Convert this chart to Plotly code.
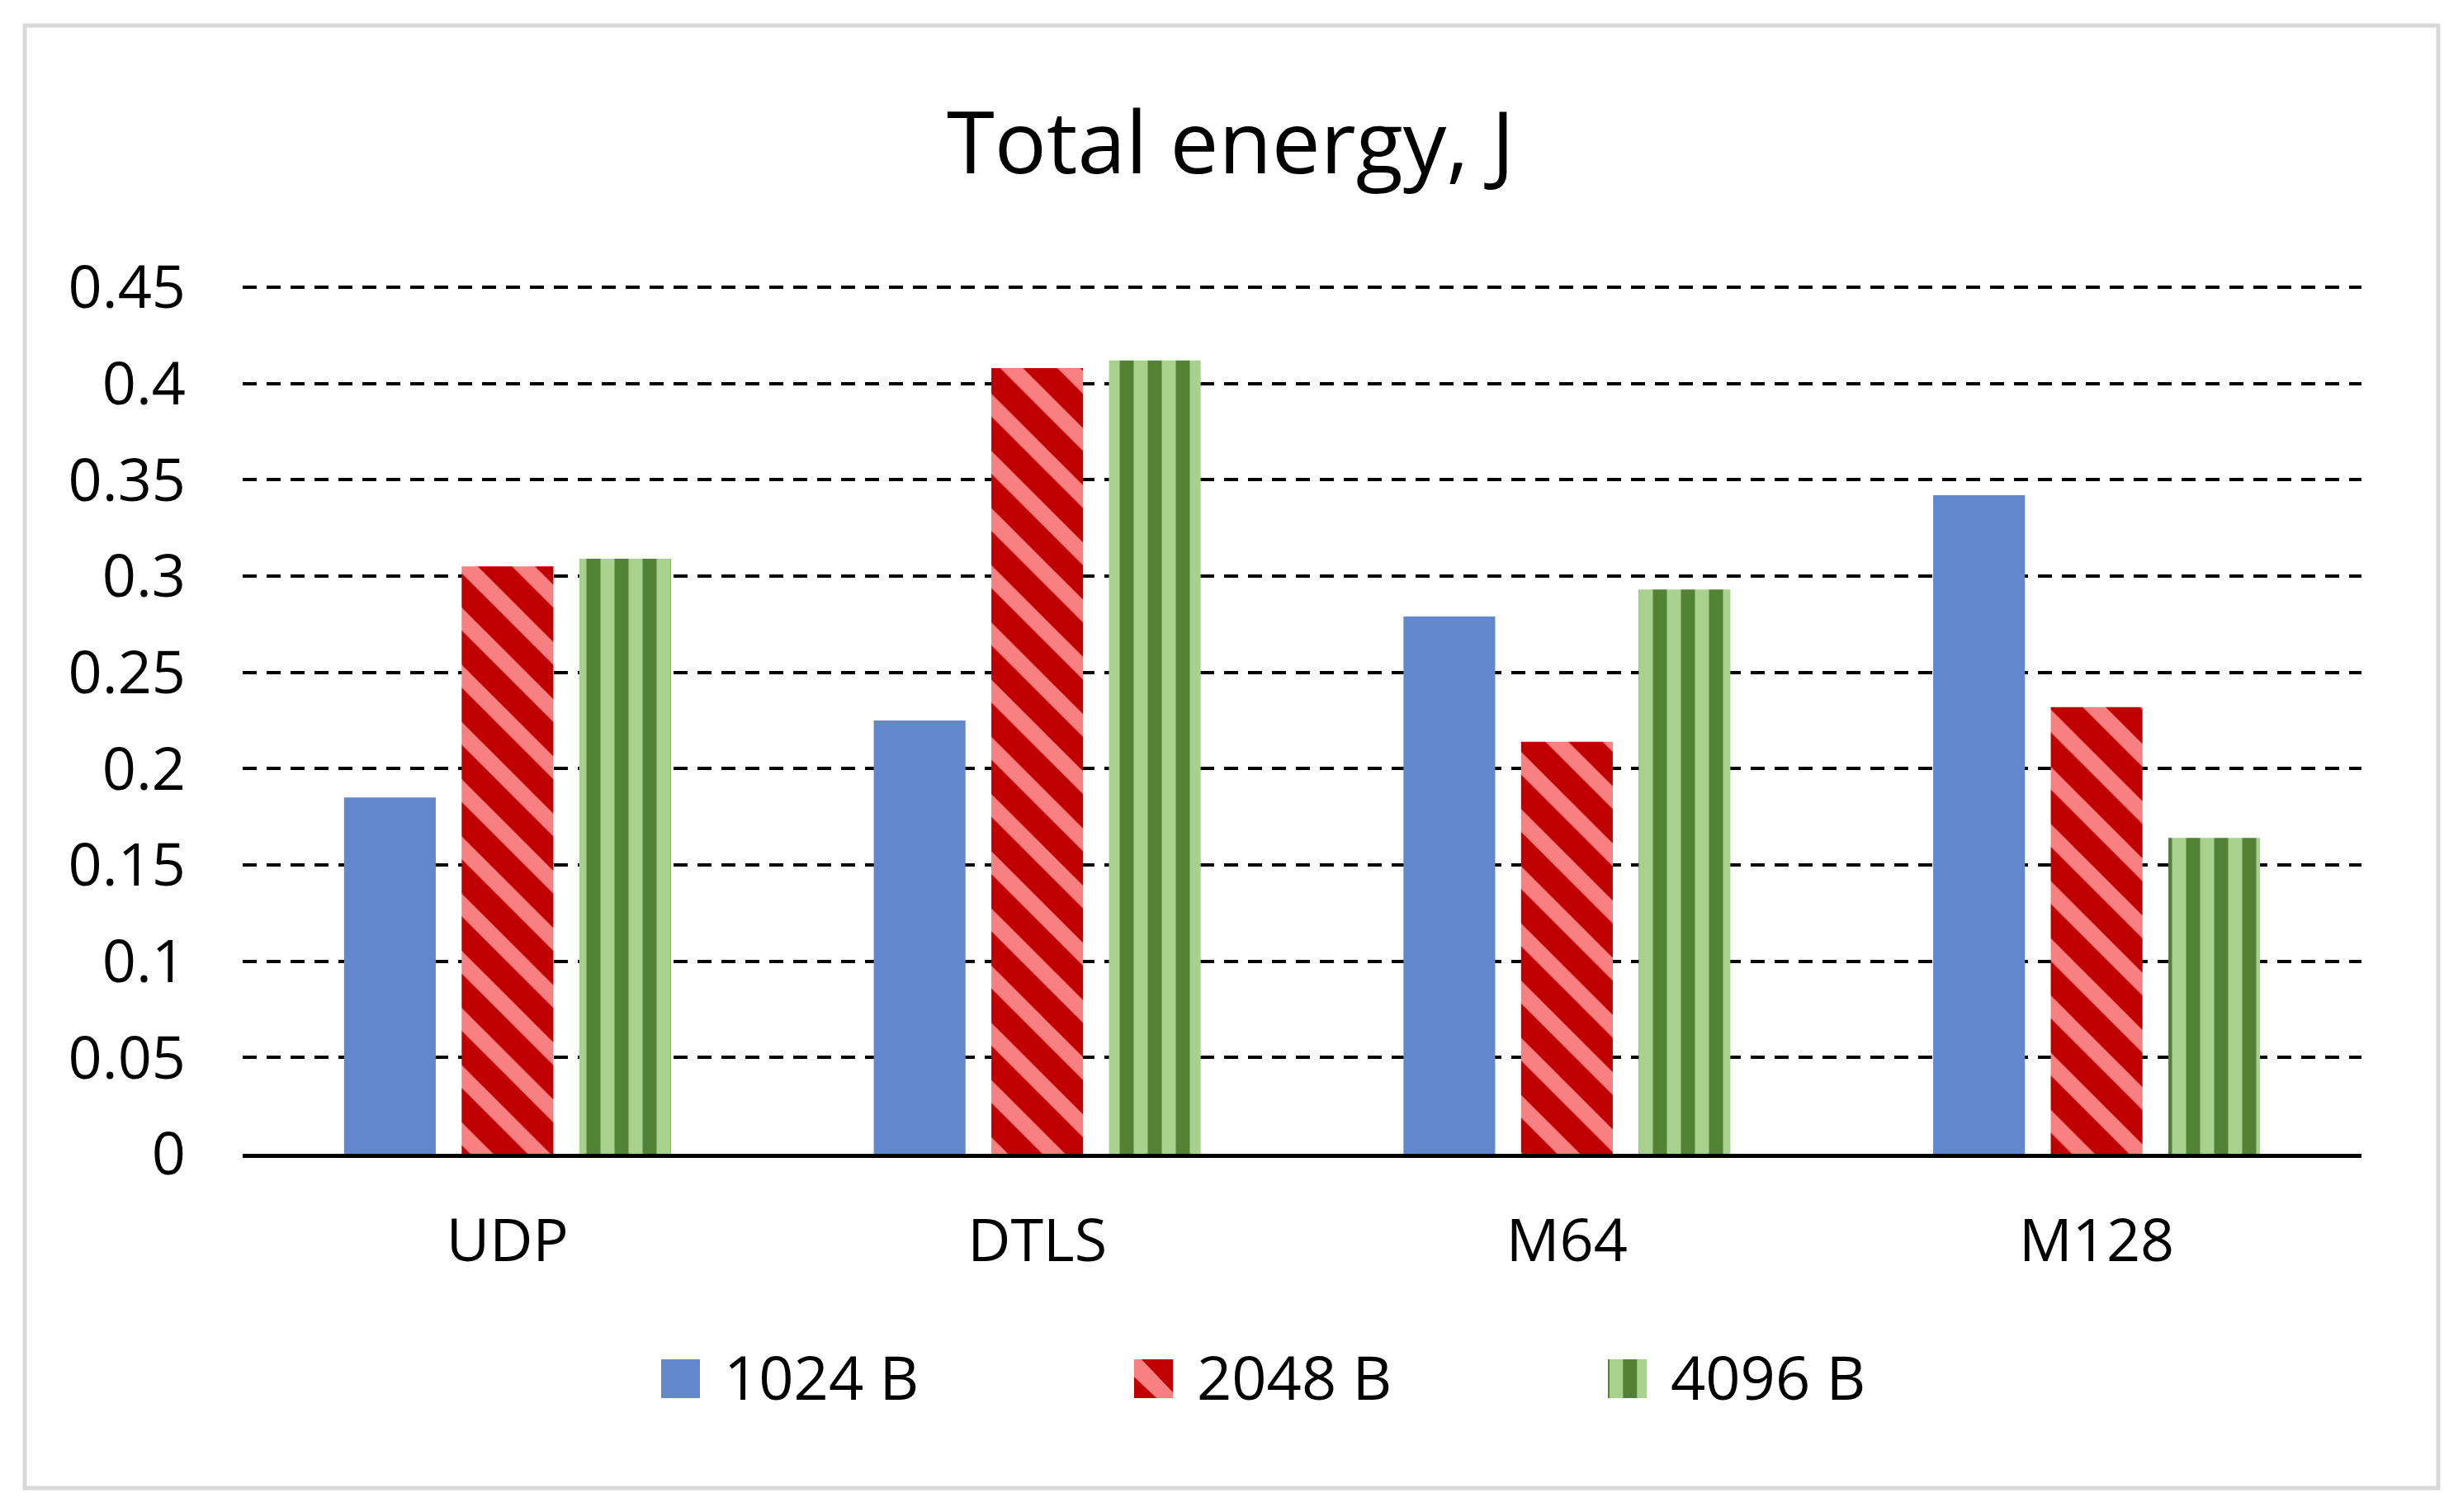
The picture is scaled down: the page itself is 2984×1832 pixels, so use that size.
import plotly.graph_objects as go

# values
categories = ["UDP", "DTLS", "M64", "M128"]
series_names = ["1024 B", "2048 B", "4096 B"]
energy_1024 = [0.185, 0.225, 0.279, 0.342]
energy_2048 = [0.305, 0.408, 0.214, 0.232]
energy_4096 = [0.309, 0.412, 0.293, 0.164]
y_ticks = [0, 0.05, 0.1, 0.15, 0.2, 0.25, 0.3, 0.35, 0.4, 0.45]

BLUE = "#6287CD"
RED_DARK = "#C00000"
RED_LIGHT = "#F88080"
GREEN_DARK = "#548235"
GREEN_LIGHT = "#A9D18E"
FONT = "Open Sans"

# the page body has an 8px margin, so page pixels are shifted by OFF
OFF = 8
W, H = 2984 - 2 * OFF, 1832 - 2 * OFF
L, R, T, B = 294 - OFF, 2861 - OFF, 346 - OFF, 1398 - OFF
# plotly drops grid lines within 1px of the plot edge, so leave 2px above 0.45
Y_TOP = 0.45 * (B - T) / (B - T - 2)


def px_x(p):
    return (p - OFF - L) / (R - L)


def px_y(p):
    return (B - (p - OFF)) / (B - T)


fig = go.Figure()
fig.add_trace(go.Bar(x=categories, y=energy_1024, name=series_names[0],
                     marker=dict(color=BLUE, line=dict(width=0))))
fig.add_trace(go.Bar(x=categories, y=energy_2048, name=series_names[1],
                     marker=dict(color=RED_DARK, line=dict(width=0),
                                 pattern=dict(shape="\\", bgcolor=RED_DARK, fgcolor=RED_LIGHT,
                                              fgopacity=1, size=49, solidity=0.4))))
fig.add_trace(go.Bar(x=categories, y=energy_4096, name=series_names[2],
                     marker=dict(color=GREEN_LIGHT, line=dict(width=0),
                                 pattern=dict(shape="|", bgcolor=GREEN_LIGHT, fgcolor=GREEN_DARK,
                                              fgopacity=1, size=34, solidity=0.5))))

shapes = []
# outer chart border
shapes.append(dict(type="rect", xref="paper", yref="paper",
                   x0=px_x(30), x1=px_x(2954), y0=px_y(1803), y1=px_y(31),
                   line=dict(color="#D9D9D9", width=5), layer="below"))

# legend swatches drawn by hand so they can be Excel-sized
sw_top, sw_bot = 1647, 1694
sw_left = [801, 1374, 1948]
sw = 47


def rect(x0, x1, color):
    return dict(type="rect", xref="paper", yref="paper",
                x0=px_x(x0), x1=px_x(x1), y0=px_y(sw_bot), y1=px_y(sw_top),
                fillcolor=color, line=dict(width=0), layer="above")


shapes.append(rect(sw_left[0], sw_left[0] + sw, BLUE))
shapes.append(rect(sw_left[1], sw_left[1] + sw, RED_DARK))
x0 = sw_left[1]
pts = [(0, 0), (0.19, 0), (1, 0.85), (1, 1), (0.58, 1), (0, 0.45)]
path = "M " + " L ".join(f"{px_x(x0 + a * sw):.5f},{px_y(sw_top + b * sw):.5f}" for a, b in pts) + " Z"
shapes.append(dict(type="path", xref="paper", yref="paper", path=path,
                   fillcolor=RED_LIGHT, line=dict(width=0), layer="above"))
shapes.append(rect(sw_left[2], sw_left[2] + sw, GREEN_LIGHT))
shapes.append(rect(sw_left[2], sw_left[2] + 2, GREEN_DARK))
shapes.append(rect(sw_left[2] + 0.39 * sw, sw_left[2] + 0.75 * sw, GREEN_DARK))

annotations = []
for i, name in enumerate(series_names):
    annotations.append(dict(text=name, xref="paper", yref="paper",
                            x=px_x(sw_left[i] + sw + 27), y=px_y(1667),
                            xanchor="left", yanchor="middle", showarrow=False,
                            font=dict(family=FONT, size=74, color="black")))

fig.update_layout(
    width=W,
    height=H,
    barmode="group",
    bargap=0.334,
    bargroupgap=0.22,
    showlegend=False,
    paper_bgcolor="white",
    plot_bgcolor="white",
    margin=dict(l=L, r=W - R, t=T, b=H - B, pad=0),
    font=dict(family=FONT, color="black"),
    title=dict(text="Total energy, J", x=(1491 - OFF) / W, xref="container", xanchor="center",
               y=1 - (173 - OFF) / H, yref="container", yanchor="middle",
               font=dict(family=FONT, size=105, color="black")),
    shapes=shapes,
    annotations=annotations,
)
fig.update_xaxes(showline=True, linecolor="black", linewidth=5, ticks="",
                 tickfont=dict(size=72, color="black"), ticklabelstandoff=39,
                 showgrid=False, zeroline=False)
fig.update_yaxes(range=[0, Y_TOP], tickvals=y_ticks, showgrid=True, gridcolor="black",
                 gridwidth=4, griddash="17px,12px", zeroline=False, showline=False,
                 ticks="", tickfont=dict(size=72, color="black"), ticklabelstandoff=68)

fig.write_html("out.html")
